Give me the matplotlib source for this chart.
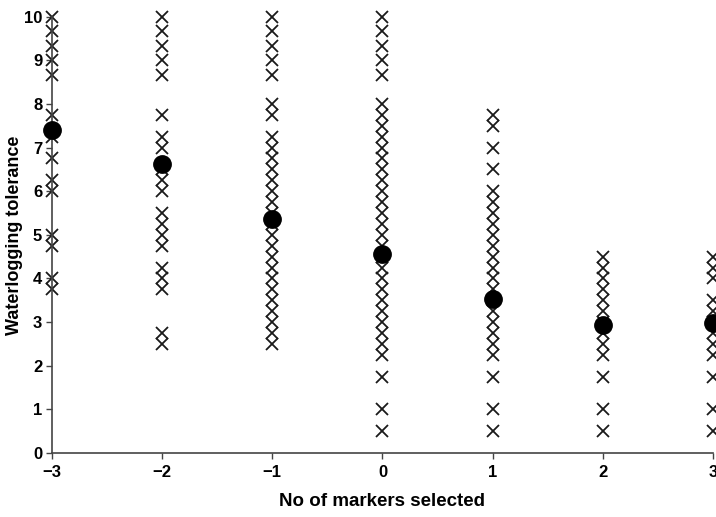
import numpy as np
import matplotlib.pyplot as plt

plt.rcParams["font.family"] = ["Liberation Sans", "DejaVu Sans"]

# individual scores per number of markers selected
markers_m3 = [10, 9.67, 9.33, 9.0, 8.67, 7.75, 7.25, 6.75, 6.25, 6.0, 5.0, 4.75, 4.0, 3.75]
markers_m2 = [10, 9.67, 9.33, 9.0, 8.67, 7.75, 7.25, 7.0, 6.5, 6.25, 6.0,
              5.5, 5.25, 5.0, 4.75, 4.25, 4.0, 3.75, 2.75, 2.5]
markers_m1 = [10, 9.67, 9.33, 9.0, 8.67, 8.0, 7.75,
              7.25, 7.0, 6.75, 6.5, 6.25, 6.0, 5.75, 5.5, 5.25, 5.0,
              4.75, 4.5, 4.25, 4.0, 3.75, 3.5, 3.25, 3.0, 2.75, 2.5]
markers_0 = [10, 9.67, 9.33, 9.0, 8.67,
             8.0, 7.75, 7.5, 7.25, 7.0, 6.75, 6.5, 6.25, 6.0, 5.75, 5.5, 5.25, 5.0,
             4.75, 4.5, 4.25, 4.0, 3.75, 3.5, 3.25, 3.0, 2.75, 2.5, 2.25,
             1.75, 1.0, 0.5]
markers_p1 = [7.75, 7.5, 7.0, 6.5,
              6.0, 5.75, 5.5, 5.25, 5.0, 4.75, 4.5, 4.25, 4.0, 3.75, 3.5,
              3.25, 3.0, 2.75, 2.5, 2.25, 1.75, 1.0, 0.5]
markers_p2 = [4.5, 4.25, 4.0, 3.75, 3.5, 3.25, 3.0, 2.75, 2.5, 2.25, 1.75, 1.0, 0.5]
markers_p3 = [4.5, 4.25, 4.0, 3.5, 3.25, 3.0, 2.75, 2.5, 2.25, 1.75, 1.0, 0.5]

n_selected = [-3, -2, -1, 0, 1, 2, 3]
mean_tolerance = [7.4, 6.63, 5.37, 4.57, 3.52, 2.93, 2.98]

columns = [markers_m3, markers_m2, markers_m1, markers_0,
           markers_p1, markers_p2, markers_p3]

fig = plt.figure(figsize=(7.16, 5.17), dpi=100)
ax = fig.add_axes([0.0726, 0.1238, 0.9232, 0.8439])

for n, vals in zip(n_selected, columns):
    ax.plot([n] * len(vals), vals, linestyle="none", marker="x",
            markersize=8, markeredgewidth=1.3, color="#1a1a1a", clip_on=False)

ax.plot(n_selected, mean_tolerance, linestyle="none", marker="o",
        markersize=12.5, color="black", clip_on=False, zorder=3)

ax.set_xlim(-3, 3)
ax.set_ylim(0, 10)
ax.set_xticks(n_selected)
ax.set_yticks(range(0, 11))

for s in ["top", "right"]:
    ax.spines[s].set_visible(False)
for s in ["left", "bottom"]:
    ax.spines[s].set_color("#444444")
    ax.spines[s].set_linewidth(1.2)

ax.tick_params(axis="both", direction="out", length=4, width=1,
               color="#444444", labelsize=12)
ax.tick_params(axis="x", pad=5)
ax.tick_params(axis="y", pad=3)
for lab in ax.get_xticklabels() + ax.get_yticklabels():
    lab.set_fontweight("bold")

ax.set_xlabel("No of markers selected", fontsize=13.5, fontweight="bold", labelpad=9)
ax.set_ylabel("Waterlogging tolerance", fontsize=13, fontweight="bold")
ax.yaxis.set_label_coords(-0.044, 0.5)

fig.savefig("out.png", dpi=100)
